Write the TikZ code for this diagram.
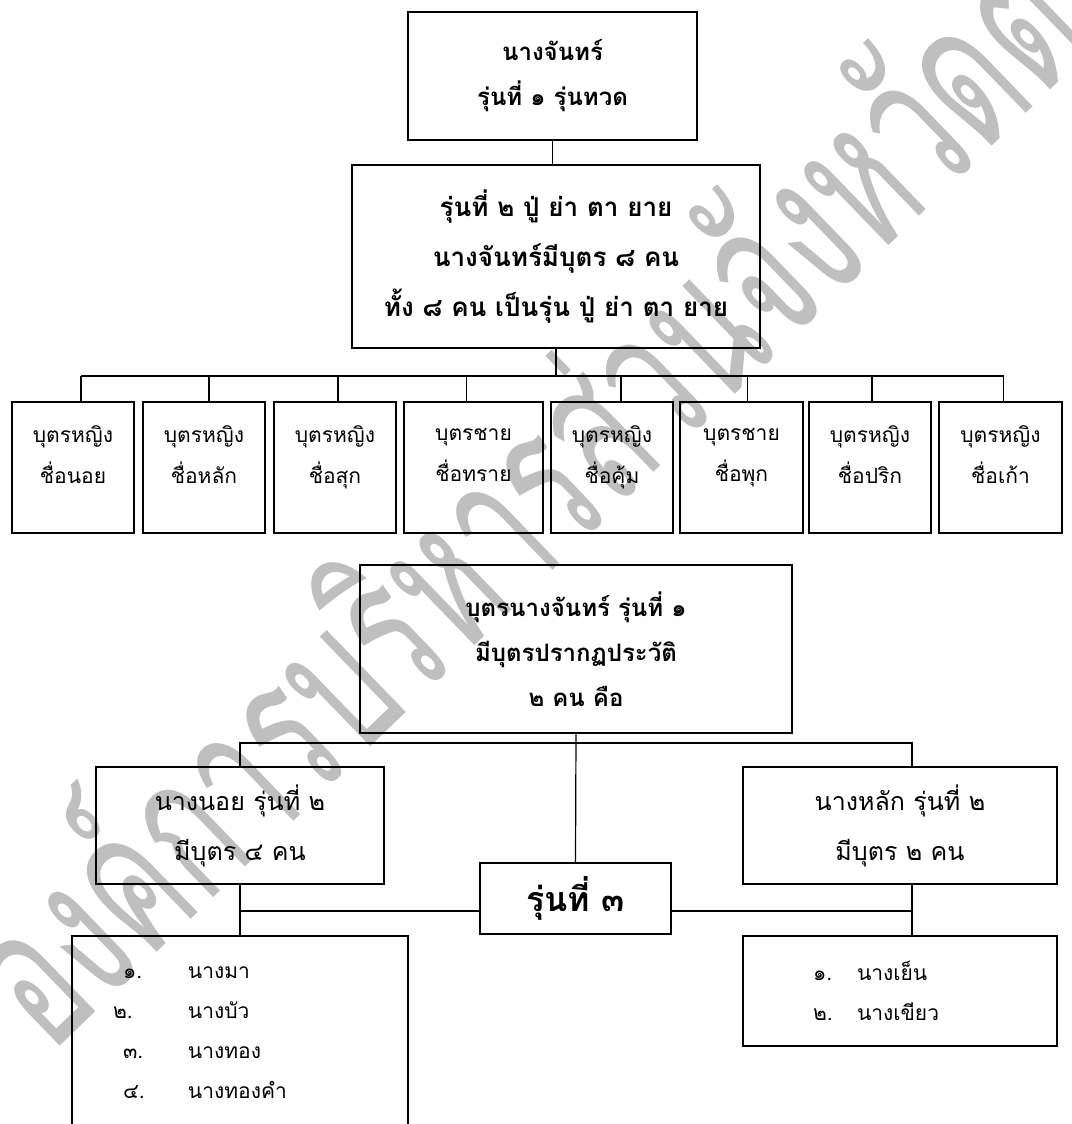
\documentclass[tikz,border=0pt]{standalone}
\usepackage{fontspec}
\newfontfamily\thaifont[Script=Thai]{Loma}
\usetikzlibrary{positioning}
\tikzset{
	famBox/.style = {draw, line width = 1.5pt, align = center, inner sep = 0pt},
	tie/.style = {line width = 1.2pt},
	boldText/.style = {font = \thaifont\bfseries\fontsize{#1}{45}\selectfont},
	plainText/.style = {font = \thaifont\fontsize{#1}{41}\selectfont}
}

\begin{document}
\begin{tikzpicture}[x = 1pt, y = -1pt]
	\path [use as bounding box] (0, 0) rectangle (1071, 1124);
	\clip (0, 0) rectangle (1071, 1124);

	% watermark
	\node [anchor = base west, rotate = 44, xscale = 0.6, inner sep = 0pt, text = black!25, font = \thaifont\fontsize{205}{205}\selectfont] (mark) at (50, 1056) {องค์การบริหารส่วนจังหวัดตรัง};

	\node [famBox, boldText = 24, minimum width = 289, minimum height = 128] (gen1) at (552.5, 76) {นางจันทร์\\รุ่นที่ ๑ รุ่นทวด};
	\node [famBox, font = \thaifont\bfseries\fontsize{26}{50}\selectfont, minimum width = 408, minimum height = 183] (gen2) at (556, 256.5) {รุ่นที่ ๒ ปู่ ย่า ตา ยาย\\นางจันทร์มีบุตร ๘ คน\\ทั้ง ๘ คน เป็นรุ่น ปู่ ย่า ตา ยาย};

	\foreach \name/\x/\w/\txt in {kidA/73/122/{บุตรหญิง\\ชื่อนอย}, kidB/204/122/{บุตรหญิง\\ชื่อหลัก}, kidC/335/122/{บุตรหญิง\\ชื่อสุก}, kidD/473.5/139/{บุตรชาย\\ชื่อทราย}, kidE/612/122/{บุตรหญิง\\ชื่อคุ้ม}, kidF/741.5/123/{บุตรชาย\\ชื่อพุก}, kidG/870/122/{บุตรหญิง\\ชื่อปริก}, kidH/1000.5/123/{บุตรหญิง\\ชื่อเก้า}}
		\node [famBox, plainText = 21, text depth = 26pt, minimum width = \w, minimum height = 131] (\name) at (\x, 467.5) {\txt};

	\node [famBox, boldText = 24, minimum width = 432, minimum height = 168] (sons) at (576, 649) {บุตรนางจันทร์ รุ่นที่ ๑\\มีบุตรปรากฏประวัติ\\๒ คน คือ};
	\node [famBox, font = \thaifont\fontsize{25}{50}\selectfont, minimum width = 288, minimum height = 117] (noi) at (240, 825.5) {นางนอย รุ่นที่ ๒\\มีบุตร ๔ คน};
	\node [famBox, font = \thaifont\fontsize{25}{50}\selectfont, minimum width = 314, minimum height = 117] (lak) at (900, 825.5) {นางหลัก รุ่นที่ ๒\\มีบุตร ๒ คน};
	\node [famBox, font = \thaifont\bfseries\fontsize{34}{40}\selectfont, minimum width = 191, minimum height = 71] (gen3) at (575.5, 898.5) {รุ่นที่ ๓};

	\node [famBox, anchor = north, align = left, font = \thaifont\fontsize{21}{40}\selectfont, text width = 234, inner xsep = 51, minimum height = 194] (kidsNoi) at (240, 935) {\makebox[65pt][l]{๑.}นางมา\\\hspace*{-10pt}\makebox[75pt][l]{๒.}นางบัว\\\makebox[65pt][l]{๓.}นางทอง\\\makebox[65pt][l]{๔.}นางทองคำ};
	\node [famBox, anchor = north, align = left, font = \thaifont\fontsize{21}{40}\selectfont, text width = 174, inner xsep = 70, minimum height = 110] (kidsLak) at (900, 935) {\makebox[44pt][l]{๑.}นางเย็น\\\makebox[44pt][l]{๒.}นางเขียว};

	% connectors
	\draw [tie] (gen1.south) -- (gen1.south |- gen2.north);
	\coordinate (bus1) at (0, 376);
	\draw [tie] (gen2.south) -- (gen2.south |- bus1);
	\draw [tie] ([xshift = 8pt] kidA.north |- bus1) -- ([xshift = 3pt] kidH.north |- bus1);
	\foreach \name/\dx in {kidA/8, kidB/5, kidC/3, kidD/-7, kidE/9, kidF/6, kidG/2, kidH/3}
		\draw [tie] ([xshift = \dx pt] \name.north |- bus1) -- ([xshift = \dx pt] \name.north);

	\coordinate (bus2) at (0, 743);
	\coordinate (lakTop) at ([xshift = 12pt] lak.north);
	\coordinate (lakDrop) at ([xshift = 12pt] lak.south);
	\draw [tie] (sons.south) -- (gen3.north);
	\draw [tie] (noi.north) |- (sons.south |- bus2) -| (lakTop);
	\draw [tie] (noi.south) -- (kidsNoi.north);
	\draw [tie] (lakDrop) -- (lakDrop |- kidsLak.north);
	\draw [tie] ([yshift = -12.5pt] gen3.west) -- ([yshift = -12.5pt] gen3.west -| noi.south);
	\draw [tie] ([yshift = -12.5pt] gen3.east) -- ([yshift = -12.5pt] gen3.east -| lakDrop);
\end{tikzpicture}
\end{document}
